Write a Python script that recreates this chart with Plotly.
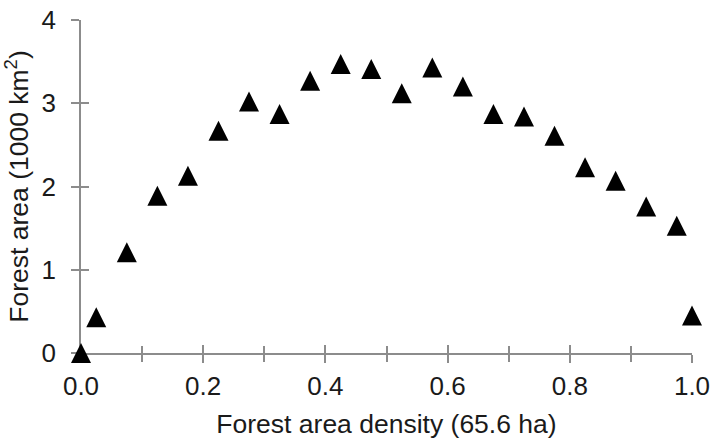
import plotly.graph_objects as go

density = [0, 0.025, 0.075, 0.125, 0.175, 0.225, 0.275, 0.325, 0.375, 0.425, 0.475,
           0.525, 0.575, 0.625, 0.675, 0.725, 0.775, 0.825, 0.875, 0.925, 0.975, 1.0]
forest_area = [0, 0.43, 1.21, 1.89, 2.13, 2.67, 3.02, 2.87, 3.27, 3.47, 3.41,
               3.12, 3.43, 3.20, 2.87, 2.84, 2.61, 2.23, 2.07, 1.76, 1.53, 0.45]

x_ticks = [0.0, 0.2, 0.4, 0.6, 0.8, 1.0]
x_tick_labels = ["0.0", "0.2", "0.4", "0.6", "0.8", "1.0"]
y_ticks = [0, 1, 2, 3, 4]
y_tick_labels = ["0", "1", "2", "3", "4"]

AX = "#8c8c8c"
TXT = "#1a1a1a"
FONT = "Liberation Sans, Arial, sans-serif"
MS = 20

fig = go.Figure()
fig.add_trace(go.Scatter(
    x=density, y=forest_area, mode="markers", cliponaxis=False,
    marker=dict(symbol="arrow-down", angle=180, standoff=MS / 2, size=MS,
                color="black", line=dict(width=0)),
    showlegend=False, hoverinfo="x+y",
))

common_x = dict(range=[0, 1], tickvals=x_ticks, ticktext=x_tick_labels,
                ticklen=8, tickwidth=1.5, tickcolor=AX, automargin=False,
                showgrid=False, zeroline=False)
common_y = dict(range=[0, 4], tickvals=y_ticks, ticktext=y_tick_labels,
                ticklen=8, tickwidth=1.5, tickcolor=AX, automargin=False,
                showgrid=False, zeroline=False)

fig.update_layout(
    width=713, height=443,
    margin=dict(l=81, r=21, t=20, b=90),
    paper_bgcolor="white", plot_bgcolor="white",
    font=dict(family=FONT, color=TXT, size=26),
    xaxis=dict(**common_x, ticks="outside", showline=True, linecolor=AX, linewidth=1.5,
               layer="below traces", ticklabeloverflow="allow",
               minor=dict(dtick=0.1, tick0=0, ticklen=7, tickwidth=1.5, tickcolor=AX,
                          ticks="outside"),
               ticklabelstandoff=1,
               tickfont=dict(size=26, color=TXT),
               title=dict(text="Forest area density (65.6 ha)", font=dict(size=26.5, color=TXT),
                          standoff=14)),
    yaxis=dict(**common_y, ticks="outside", showline=True, linecolor=AX, linewidth=1.5,
               layer="below traces", ticklabeloverflow="allow",
               ticklabelstandoff=10,
               tickfont=dict(size=26, color=TXT),
               title=dict(text="Forest area (1000 km<sup>2</sup>)", font=dict(size=26.5, color=TXT),
                          standoff=12)),
    xaxis2=dict(**common_x, overlaying="x", anchor="y2", side="bottom", ticks="inside",
                minor=dict(dtick=0.1, tick0=0, ticklen=7, tickwidth=1.5, tickcolor=AX,
                           ticks="inside"),
                showline=False, showticklabels=False, layer="below traces"),
    yaxis2=dict(**common_y, overlaying="y", anchor="x2", side="left", ticks="inside",
                showline=False, showticklabels=False, layer="below traces"),
)
fig.add_trace(go.Scatter(x=[0], y=[0], xaxis="x2", yaxis="y2", mode="markers",
                         marker=dict(opacity=0), showlegend=False, hoverinfo="skip"))

fig.write_html("out.html", config={"displayModeBar": False},
               post_script="document.body.style.margin='0';document.body.style.overflow='hidden';")
